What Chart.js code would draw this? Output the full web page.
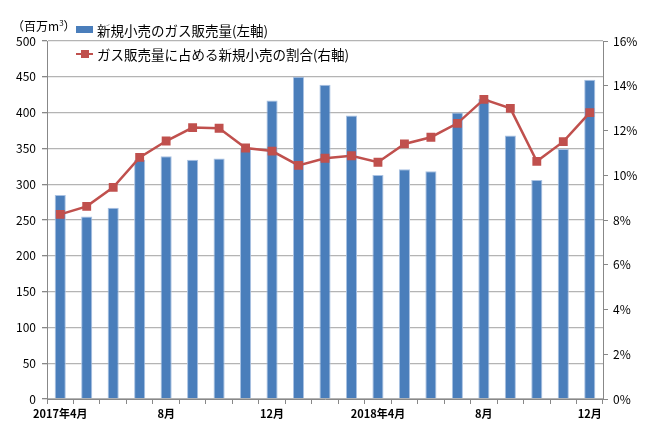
<!DOCTYPE html>
<html><head><meta charset="utf-8">
<script src="https://cdn.jsdelivr.net/npm/chart.js@4/dist/chart.umd.min.js"></script>
<style>
html,body{margin:0;padding:0;background:#fff;}
#wrap{position:relative;width:650px;height:437px;font-family:"Noto Sans CJK JP","Noto Sans",sans-serif;color:#000;}
canvas{position:absolute;left:0;top:0;}
.t{position:absolute;white-space:nowrap;line-height:1;}
</style></head><body>
<div id="wrap">
<canvas id="c" width="650" height="437"></canvas>
<div class="t" id="unit" style="left:12px;top:19px;font-size:12px;">（百万m<sup style="font-size:8px;vertical-align:5px;">3</sup>）</div>
<div class="t" style="left:76px;top:24px;font-size:13.5px;"><span style="display:inline-block;width:17px;height:7px;background:#4a7ebb;vertical-align:3px;margin-right:4px;"></span>新規小売のガス販売量(左軸)</div>
<div class="t" style="left:76px;top:48px;font-size:13.5px;"><span style="display:inline-block;position:relative;width:17px;height:8px;vertical-align:2px;margin-right:4px;"><span style="position:absolute;left:0;top:3px;width:17px;height:2px;background:#c0504d;"></span><span style="position:absolute;left:5px;top:0;width:8px;height:8px;background:#c0504d;"></span></span>ガス販売量に占める新規小売の割合(右軸)</div>
</div>
<script>
const categories = ["2017年4月","5月","6月","7月","8月","9月","10月","11月","12月","2018年1月","2月","3月","2018年4月","5月","6月","7月","8月","9月","10月","11月","12月"];
const tickLabels = ["2017年4月","","","","8月","","","","12月","","","","2018年4月","","","","8月","","","","12月"];
const salesVolume = [285,255,267,334,339,334,336,350,417,450,439,396,313,321,318,400,419,368,306,349,446];
const shareRatio = [8.25,8.61,9.46,10.80,11.53,12.13,12.10,11.22,11.08,10.44,10.76,10.87,10.58,11.40,11.70,12.32,13.39,12.99,10.62,11.50,12.80];
const leftTicks = [0,50,100,150,200,250,300,350,400,450,500];
const rightTicks = [0,2,4,6,8,10,12,14,16];

const tickFont = {family:'"Noto Sans CJK JP","Noto Sans",sans-serif', size:12};
new Chart(document.getElementById('c'), {
  data: {
    labels: categories,
    datasets: [
      {type:'line', label:'ガス販売量に占める新規小売の割合(右軸)', data: shareRatio, yAxisID:'y1',
       borderColor:'#c0504d', backgroundColor:'#c0504d', borderWidth:2.5, pointStyle:'rect',
       pointRadius:4.5, pointHoverRadius:4.5, tension:0, order:0},
      {type:'bar', label:'新規小売のガス販売量(左軸)', data: salesVolume, yAxisID:'y',
       backgroundColor:'#4a7ebb', borderColor:'#a9c2e3', borderWidth:{top:1,left:1,right:1,bottom:0},
       categoryPercentage:1, barPercentage:0.42, order:1}
    ]
  },
  options: {
    responsive:false, animation:false,
    layout:{padding:{top:41,left:0,right:0,bottom:0}},
    plugins:{legend:{display:false}, tooltip:{enabled:false}},
    scales:{
      x:{
        offset:true,
        grid:{display:true, drawOnChartArea:false, drawTicks:true, tickLength:5, color:'#888', offset:true},
        border:{display:true, color:'#888', width:1},
        ticks:{autoSkip:false, maxRotation:0, padding:3, color:'#000',
               font:{family:'"Noto Sans CJK JP",sans-serif', size:11, weight:'bold'},
               callback:(v,i)=>tickLabels[i]},
        afterFit:(s)=>{s.height=38;}
      },
      y:{
        position:'left', min:0, max:500,
        afterBuildTicks:(s)=>{s.ticks = leftTicks.map(v=>({value:v}));},
        grid:{color:'#b4b4b4', lineWidth:1.3, tickLength:5, tickColor:'#888'},
        border:{display:true, color:'#888', width:1},
        ticks:{padding:6, color:'#000', font:tickFont},
        afterFit:(s)=>{s.width=47;}
      },
      y1:{
        position:'right', min:0, max:16,
        afterBuildTicks:(s)=>{s.ticks = rightTicks.map(v=>({value:v}));},
        grid:{drawOnChartArea:false, tickLength:5, color:'#888'},
        border:{display:true, color:'#888', width:1},
        ticks:{padding:5, color:'#000', font:tickFont, callback:(v)=>v+'%'},
        afterFit:(s)=>{s.width=47;}
      }
    }
  }
});
</script>
</body></html>
